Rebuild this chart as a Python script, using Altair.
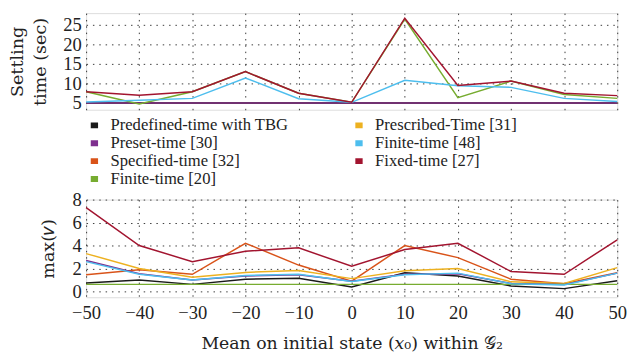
import altair as alt
import pandas as pd

x_vals = [-50, -40, -30, -20, -10, 0, 10, 20, 30, 40, 50]

series = ["Predefined-time with TBG", "Preset-time [30]", "Specified-time [32]",
          "Finite-time [20]", "Prescribed-Time [31]", "Finite-time [48]", "Fixed-time [27]"]
colors = ["#1a1a1a", "#7E2F8E", "#D95319", "#77AC30", "#EDB120", "#4DBEEE", "#A2142F"]

# drawing order (later on top)
draw_order = ["Specified-time [32]", "Prescribed-Time [31]", "Predefined-time with TBG",
              "Preset-time [30]", "Finite-time [20]", "Finite-time [48]", "Fixed-time [27]"]

settling = {
    "Predefined-time with TBG": [5.0, 5.0, 5.0, 5.0, 5.0, 5.0, 5.0, 5.0, 5.0, 5.0, 5.0],
    "Preset-time [30]":         [5.0, 5.0, 5.0, 5.0, 5.0, 5.0, 5.0, 5.0, 5.0, 5.0, 5.0],
    "Specified-time [32]":      [5.0, 5.0, 5.0, 5.0, 5.0, 5.0, 5.0, 5.0, 5.0, 5.0, 5.0],
    "Finite-time [20]":         [7.9, 4.8, 7.9, 13.0, 7.5, 5.2, 26.4, 6.4, 10.6, 7.2, 6.2],
    "Prescribed-Time [31]":     [5.0, 5.0, 5.0, 5.0, 5.0, 5.0, 5.0, 5.0, 5.0, 5.0, 5.0],
    "Finite-time [48]":         [5.3, 5.7, 6.2, 11.4, 6.1, 5.2, 10.8, 9.4, 9.0, 6.2, 5.4],
    "Fixed-time [27]":          [7.9, 7.0, 7.9, 13.0, 7.5, 5.2, 26.6, 9.5, 10.6, 7.5, 6.9],
}

max_v = {
    "Predefined-time with TBG": [0.73, 1.0, 0.62, 1.07, 1.15, 0.4, 1.63, 1.35, 0.48, 0.25, 0.93],
    "Preset-time [30]":         [2.7, 1.55, 1.0, 1.35, 1.46, 0.9, 1.5, 1.55, 0.7, 0.6, 1.6],
    "Specified-time [32]":      [1.46, 1.9, 1.5, 4.2, 2.3, 0.9, 4.0, 2.95, 1.07, 0.67, 1.63],
    "Finite-time [20]":         [0.62, 0.62, 0.62, 0.62, 0.62, 0.62, 0.62, 0.62, 0.62, 0.62, 0.62],
    "Prescribed-Time [31]":     [3.3, 2.0, 1.24, 1.66, 1.83, 1.12, 1.8, 2.0, 0.84, 0.7, 2.08],
    "Finite-time [48]":         [2.6, 1.5, 1.0, 1.4, 1.5, 0.87, 1.46, 1.6, 0.67, 0.56, 1.6],
    "Fixed-time [27]":          [7.3, 4.0, 2.6, 3.5, 3.8, 2.2, 3.65, 4.2, 1.74, 1.5, 4.5],
}

x_ticks = [-50, -40, -30, -20, -10, 0, 10, 20, 30, 40, 50]
top_ticks = [5, 10, 15, 20, 25]
bot_ticks = [0, 2, 4, 6, 8]

def make_df(d):
    rows = []
    for s in draw_order:
        for xv, yv in zip(x_vals, d[s]):
            rows.append({"x": xv, "y": yv, "series": s})
    return pd.DataFrame(rows)

df_top = make_df(settling)
df_bot = make_df(max_v)

NUMFONT = "Liberation Serif, DejaVu Serif, serif"
TXTFONT = "DejaVu Serif, Liberation Serif, serif"
TXT = "#222222"

color_scale = alt.Scale(domain=series, range=colors)

grid_kw = dict(grid=True, gridColor="#222222", gridDash=[1.5, 5], gridWidth=1,
               gridOpacity=0.9, ticks=False, domain=False)

top = alt.Chart(df_top).mark_line(strokeWidth=1.5).encode(
    x=alt.X("x:Q", scale=alt.Scale(domain=[-50, 50], nice=False),
            axis=alt.Axis(values=x_ticks, labels=False, title=None, **grid_kw)),
    y=alt.Y("y:Q", scale=alt.Scale(domain=[3.3, 27.9], nice=False, zero=False),
            axis=alt.Axis(values=top_ticks, title=["Settling", "time (sec)"],
                          titleAngle=-90, titleBaseline="top", titleX=-79,
                          titleFontSize=18, titleFontWeight="normal", titleFont=TXTFONT,
                          titleColor=TXT, titleLineHeight=23,
                          labelFontSize=19, labelFont=NUMFONT, labelColor=TXT,
                          labelPadding=5, **grid_kw)),
    color=alt.Color("series:N", scale=color_scale, sort=series,
                    legend=alt.Legend(orient="none", legendX=0, legendY=108, columns=2,
                                      title=None, symbolType="M-1,0L1,0", symbolSize=56,
                                      symbolStrokeWidth=6, labelFont=NUMFONT, labelFontSize=17,
                                      labelColor=TXT, rowPadding=1.3, columnPadding=63,
                                      padding=0, labelOffset=8, labelLimit=400,
                                      clipHeight=14, gridAlign="all")),
    detail="series:N",
).properties(width=544, height=99)

bottom = alt.Chart(df_bot).mark_line(strokeWidth=1.5).encode(
    x=alt.X("x:Q", scale=alt.Scale(domain=[-50, 50], nice=False),
            axis=alt.Axis(values=x_ticks, title="Mean on initial state (𝑥₀) within 𝒢₂",
                          titleFontSize=17.7, titleFontWeight="normal", titleFont=TXTFONT,
                          titleColor=TXT, titlePadding=13,
                          labelFontSize=19, labelFont=NUMFONT, labelColor=TXT,
                          labelPadding=7, labelFlush=False, **grid_kw)),
    y=alt.Y("y:Q", scale=alt.Scale(domain=[-0.5, 8], nice=False, zero=False),
            axis=alt.Axis(values=bot_ticks, title="max(𝜈)",
                          titleAngle=-90, titleBaseline="top", titleX=-47,
                          titleFontSize=18, titleFontWeight="normal", titleFont=TXTFONT,
                          titleColor=TXT,
                          labelFontSize=19, labelFont=NUMFONT, labelColor=TXT,
                          labelPadding=5, **grid_kw)),
    color=alt.Color("series:N", scale=color_scale, sort=series, legend=None),
    detail="series:N",
).properties(width=544, height=100)

chart = alt.vconcat(top, bottom, spacing=2).resolve_legend(color="independent").properties(
    padding=0
).configure_view(stroke="#222222", strokeWidth=1.5).configure(background="white")

chart.save("out.html", embed_options={"renderer": "svg", "actions": False})
